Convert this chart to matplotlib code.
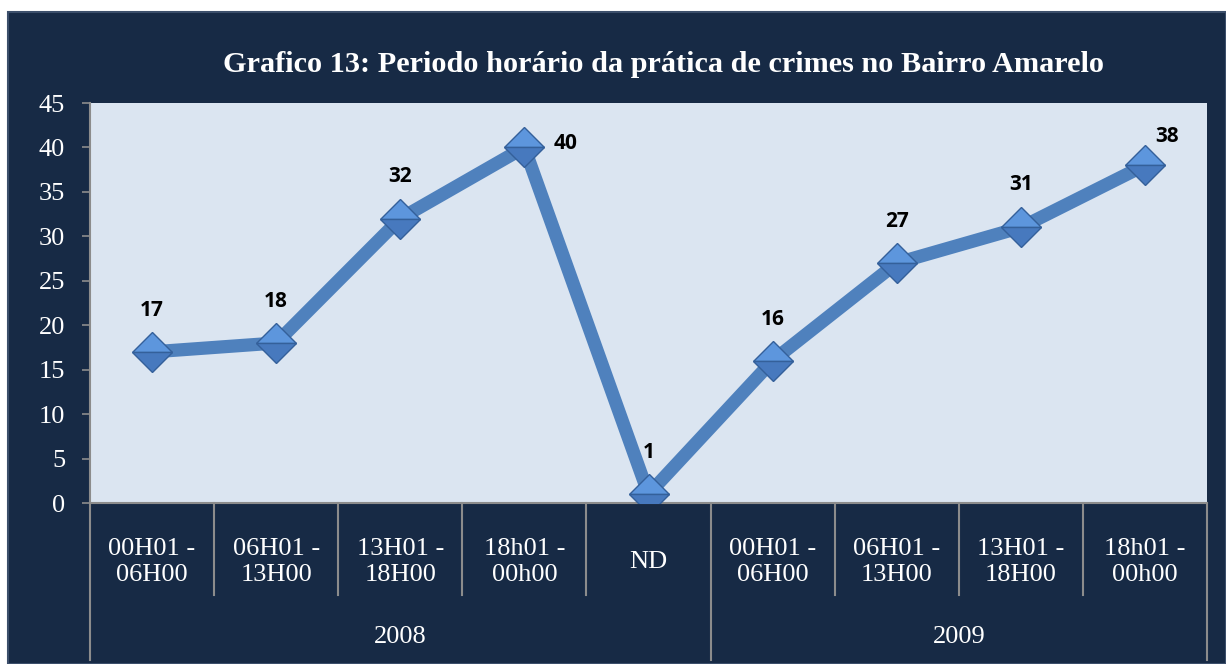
import matplotlib.pyplot as plt
from matplotlib.patches import Rectangle
import matplotlib.transforms as mtransforms

# dados do grafico
periodos = ['00H01 -\n06H00', '06H01 -\n13H00', '13H01 -\n18H00', '18h01 -\n00h00', 'ND',
            '00H01 -\n06H00', '06H01 -\n13H00', '13H01 -\n18H00', '18h01 -\n00h00']
crimes = [17, 18, 32, 40, 1, 16, 27, 31, 38]
anos = ['2008', '2009']
anos_inicio = [0, 5]   # indice da primeira categoria de cada ano
anos_fim = [4, 8]

# deslocamento dos rotulos (em pontos)
offsets = [(0, 30), (0, 30), (0, 30), (30, 3), (0, 30), (0, 30), (0, 30), (0, 31), (16, 21)]

navy = '#172a45'
grid_gray = '#8c8c8c'
serif = 'Liberation Serif'

fig = plt.figure(figsize=(12.26, 6.64), dpi=100)
fig.patch.set_facecolor('white')
fig.patches.append(Rectangle((8 / 1226, 0), 1 - 8 / 1226, 1 - 12 / 664,
                             transform=fig.transFigure, facecolor=navy,
                             edgecolor='#3c4f6b', linewidth=1.5, zorder=-10))

ax = fig.add_axes([90 / 1226, (664 - 503) / 664, 1117 / 1226, 400 / 664])
ax.set_facecolor('#dbe5f1')

x = list(range(len(crimes)))
ax.plot(x, crimes, color='#4f81bd', linewidth=9.5, solid_joinstyle='round', zorder=2)
# losango com metade de cima mais clara
ax.plot(x, crimes, linestyle='none', marker='D', markersize=20, fillstyle='top',
        markerfacecolor='#5d96dd', markerfacecoloralt='#4779be',
        markeredgecolor='#34609a', markeredgewidth=1.0, zorder=3)

for xi, yi, off in zip(x, crimes, offsets):
    ax.annotate(str(yi), (xi, yi), xytext=off, textcoords='offset points',
                ha='center', va='center', fontsize=15, fontweight='bold',
                family='Open Sans', color='black', zorder=4)

ax.set_xlim(-0.5, len(crimes) - 0.5)
ax.set_ylim(0, 45)
ax.set_yticks(range(0, 46, 5))
ax.set_xticks([])
ax.tick_params(axis='y', colors=grid_gray, length=6, width=1.2, pad=12, labelcolor='white')
for lbl in ax.get_yticklabels():
    lbl.set_family(serif)
    lbl.set_fontsize(19)

for s in ['top', 'right']:
    ax.spines[s].set_visible(False)
for s in ['left', 'bottom']:
    ax.spines[s].set_color(grid_gray)
    ax.spines[s].set_linewidth(1.5)

# eixo de categorias em dois niveis
trans = mtransforms.blended_transform_factory(ax.transData, ax.transAxes)
limites_ano = [anos_inicio[0] - 0.5] + [f + 0.5 for f in anos_fim]
for i in range(len(crimes) + 1):
    b = i - 0.5
    fundo = -0.3925 if b in limites_ano else -0.23
    ax.plot([b, b], [0, fundo], color=grid_gray, linewidth=1.5, transform=trans, clip_on=False)

for xi, p in zip(x, periodos):
    ax.text(xi, -0.1475, p, transform=trans, ha='center', va='center', color='white',
            family=serif, fontsize=19, linespacing=1.2)

for ano, ini, fim in zip(anos, anos_inicio, anos_fim):
    ax.text((ini + fim) / 2, -0.335, ano, transform=trans, ha='center', va='center',
            color='white', family=serif, fontsize=19)

fig.text((222 + 1105) / 2 / 1226, 1 - 65 / 664,
         'Grafico 13: Periodo horário da prática de crimes no Bairro Amarelo',
         ha='center', va='center', color='white', family=serif, fontweight='bold', fontsize=21.8)

fig.savefig('out.png', dpi=100)
